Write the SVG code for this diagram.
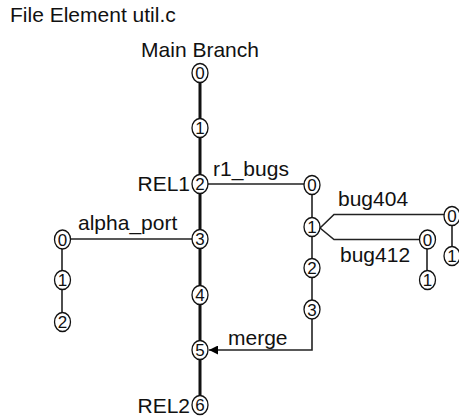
<svg xmlns="http://www.w3.org/2000/svg" width="459" height="416" viewBox="0 0 459 416">
<defs>
<style>
text{font-family:"Liberation Sans",Arial,sans-serif;font-size:21px;fill:#111}
.n ellipse{fill:#fff;stroke:#111;stroke-width:1.3}
.n text{font-size:17px;text-anchor:middle}
.main{stroke:#111;stroke-width:3;fill:none}
.br{stroke:#222;stroke-width:1.6;fill:none}
</style>
<marker id="ah" markerWidth="9" markerHeight="9" refX="9" refY="4.5" orient="auto" markerUnits="userSpaceOnUse">
<path d="M0,0 L9,4.5 L0,9 Z" fill="#000"/>
</marker>
</defs>
<rect width="459" height="416" fill="#fff"/>
<text x="10" y="22">File Element util.c</text>
<text x="200" y="57" text-anchor="middle">Main Branch</text>
<g id="connectors">
<path class="main" d="M200,73 V405"/>
<path class="br" d="M200,184 H312 V310"/>
<path class="br" d="M200,239 H62 V322"/>
<path class="br" d="M312,319 V350 H209" marker-end="url(#ah)"/>
<path class="br" d="M320,228 L334,214.5 H452 V257"/>
<path class="br" d="M320,228 L334,239.5 H427 V280"/>
</g>
<text x="213" y="176">r1_bugs</text>
<text x="78" y="230">alpha_port</text>
<text x="338" y="206">bug404</text>
<text x="340" y="262">bug412</text>
<text x="228" y="345">merge</text>
<text x="190" y="191" text-anchor="end">REL1</text>
<text x="190" y="413" text-anchor="end">REL2</text>
<g id="main0" class="n"><ellipse cx="200" cy="73" rx="8" ry="9.5"/><text x="200" y="79">0</text></g>
<g id="main1" class="n"><ellipse cx="200" cy="128" rx="8" ry="9.5"/><text x="200" y="134">1</text></g>
<g id="main2" class="n"><ellipse cx="200" cy="184" rx="8" ry="9.5"/><text x="200" y="190">2</text></g>
<g id="main3" class="n"><ellipse cx="200" cy="239" rx="8" ry="9.5"/><text x="200" y="245">3</text></g>
<g id="main4" class="n"><ellipse cx="200" cy="295" rx="8" ry="9.5"/><text x="200" y="301">4</text></g>
<g id="main5" class="n"><ellipse cx="200" cy="350" rx="8" ry="9.5"/><text x="200" y="356">5</text></g>
<g id="main6" class="n"><ellipse cx="200" cy="405" rx="8" ry="9.5"/><text x="200" y="411">6</text></g>
<g id="r1_0" class="n"><ellipse cx="312" cy="185" rx="8" ry="9.5"/><text x="312" y="191">0</text></g>
<g id="r1_1" class="n"><ellipse cx="312" cy="227" rx="8" ry="9.5"/><text x="312" y="233">1</text></g>
<g id="r1_2" class="n"><ellipse cx="312" cy="268" rx="8" ry="9.5"/><text x="312" y="274">2</text></g>
<g id="r1_3" class="n"><ellipse cx="312" cy="309.5" rx="8" ry="9.5"/><text x="312" y="315.5">3</text></g>
<g id="b404_0" class="n"><ellipse cx="452" cy="216" rx="8" ry="9.5"/><text x="452" y="222">0</text></g>
<g id="b404_1" class="n"><ellipse cx="452" cy="256" rx="8" ry="9.5"/><text x="452" y="262">1</text></g>
<g id="b412_0" class="n"><ellipse cx="427.5" cy="239.5" rx="8" ry="9.5"/><text x="427.5" y="245.5">0</text></g>
<g id="b412_1" class="n"><ellipse cx="427.5" cy="280" rx="8" ry="9.5"/><text x="427.5" y="286">1</text></g>
<g id="a0" class="n"><ellipse cx="62.5" cy="239.5" rx="8" ry="9.5"/><text x="62.5" y="245.5">0</text></g>
<g id="a1" class="n"><ellipse cx="62.5" cy="280" rx="8" ry="9.5"/><text x="62.5" y="286">1</text></g>
<g id="a2" class="n"><ellipse cx="62.5" cy="322" rx="8" ry="9.5"/><text x="62.5" y="328">2</text></g>
</svg>
